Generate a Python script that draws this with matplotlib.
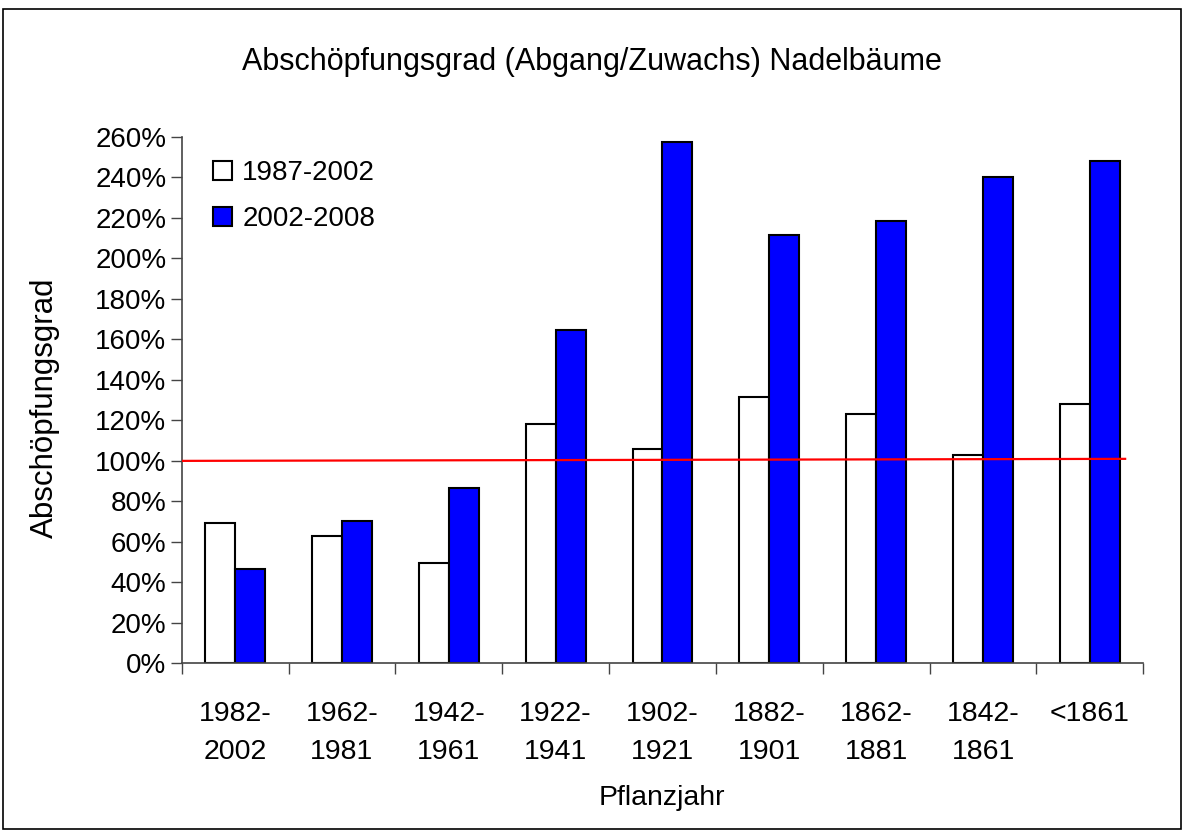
import matplotlib
matplotlib.use("Agg")
import matplotlib.pyplot as plt
import numpy as np
from matplotlib.ticker import PercentFormatter, FixedLocator
from matplotlib.patches import Rectangle

# ---- data ----
categories = ["1982-\n2002", "1962-\n1981", "1942-\n1961", "1922-\n1941", "1902-\n1921",
              "1882-\n1901", "1862-\n1881", "1842-\n1861", "<1861"]
series_names = ["1987-2002", "2002-2008"]
values_1987_2002 = [69.4, 62.8, 49.4, 118.2, 105.7, 131.7, 123.1, 103.0, 127.9]
values_2002_2008 = [46.5, 70.4, 86.5, 164.8, 257.4, 211.6, 218.4, 240.3, 247.9]
ref_line_values = [100.0, 101.0]   # red reference line (start, end)
y_ticks = list(range(0, 261, 20))

title = "Abschöpfungsgrad (Abgang/Zuwachs) Nadelbäume"
y_label = "Abschöpfungsgrad"
x_label = "Pflanzjahr"

plt.rcParams['font.family'] = ['Liberation Sans', 'DejaVu Sans']

W, H = 1184, 832
fig = plt.figure(figsize=(W / 100, H / 100), dpi=100)
ax = fig.add_axes([181.7 / W, 1 - 663.3 / H, (1143.3 - 181.7) / W, (663.3 - 137.0) / H])

n = len(categories)
x = np.arange(n)
bw = 0.28
ax.bar(x - bw / 2, values_1987_2002, width=bw, color="white", edgecolor="black",
       linewidth=1.5, label=series_names[0], zorder=2)
ax.bar(x + bw / 2, values_2002_2008, width=bw, color="#0000FF", edgecolor="black",
       linewidth=1.5, label=series_names[1], zorder=2)

ax.plot([-0.5, n - 1 + 0.33], ref_line_values, color="red", linewidth=1.6, zorder=3)

ax.set_xlim(-0.5, n - 0.5)
ax.set_ylim(0, 260)
ax.yaxis.set_major_locator(FixedLocator(y_ticks))
ax.yaxis.set_major_formatter(PercentFormatter(decimals=0))

ax.set_xticks(x)
ax.set_xticklabels(categories, linespacing=1.62)
ax.set_xticks(np.arange(n + 1) - 0.5, minor=True)
ax.tick_params(axis="x", which="major", length=0, pad=27, labelsize=20.5)
ax.tick_params(axis="x", which="minor", length=8, width=1, color="#444444")
ax.tick_params(axis="y", length=8, width=1, color="#444444", pad=3, labelsize=20)

for s in ["top", "right"]:
    ax.spines[s].set_visible(False)
for s in ["left", "bottom"]:
    ax.spines[s].set_color("#444444")
    ax.spines[s].set_linewidth(1.2)

fig.text(0.5, 1 - 62 / H, title, ha="center", va="center", fontsize=22)
fig.text(45 / W, 1 - 408 / H, y_label, rotation=90, ha="center", va="center", fontsize=22.5)
fig.text(662 / W, 1 - 798 / H, x_label, ha="center", va="center", fontsize=20.5)

leg = ax.legend(loc="upper left", bbox_to_anchor=(213 / W, 1 - 160 / H),
                bbox_transform=fig.transFigure, frameon=False, fontsize=20,
                handlelength=0.7, handleheight=0.7, handletextpad=0.35,
                labelspacing=0.73, borderpad=0, borderaxespad=0)

fig.patches.append(Rectangle((3 / W, 3 / H), (W - 6) / W, (H - 12) / H,
                             transform=fig.transFigure, fill=False,
                             edgecolor="black", linewidth=1.2))

fig.savefig("out.png", dpi=100)
